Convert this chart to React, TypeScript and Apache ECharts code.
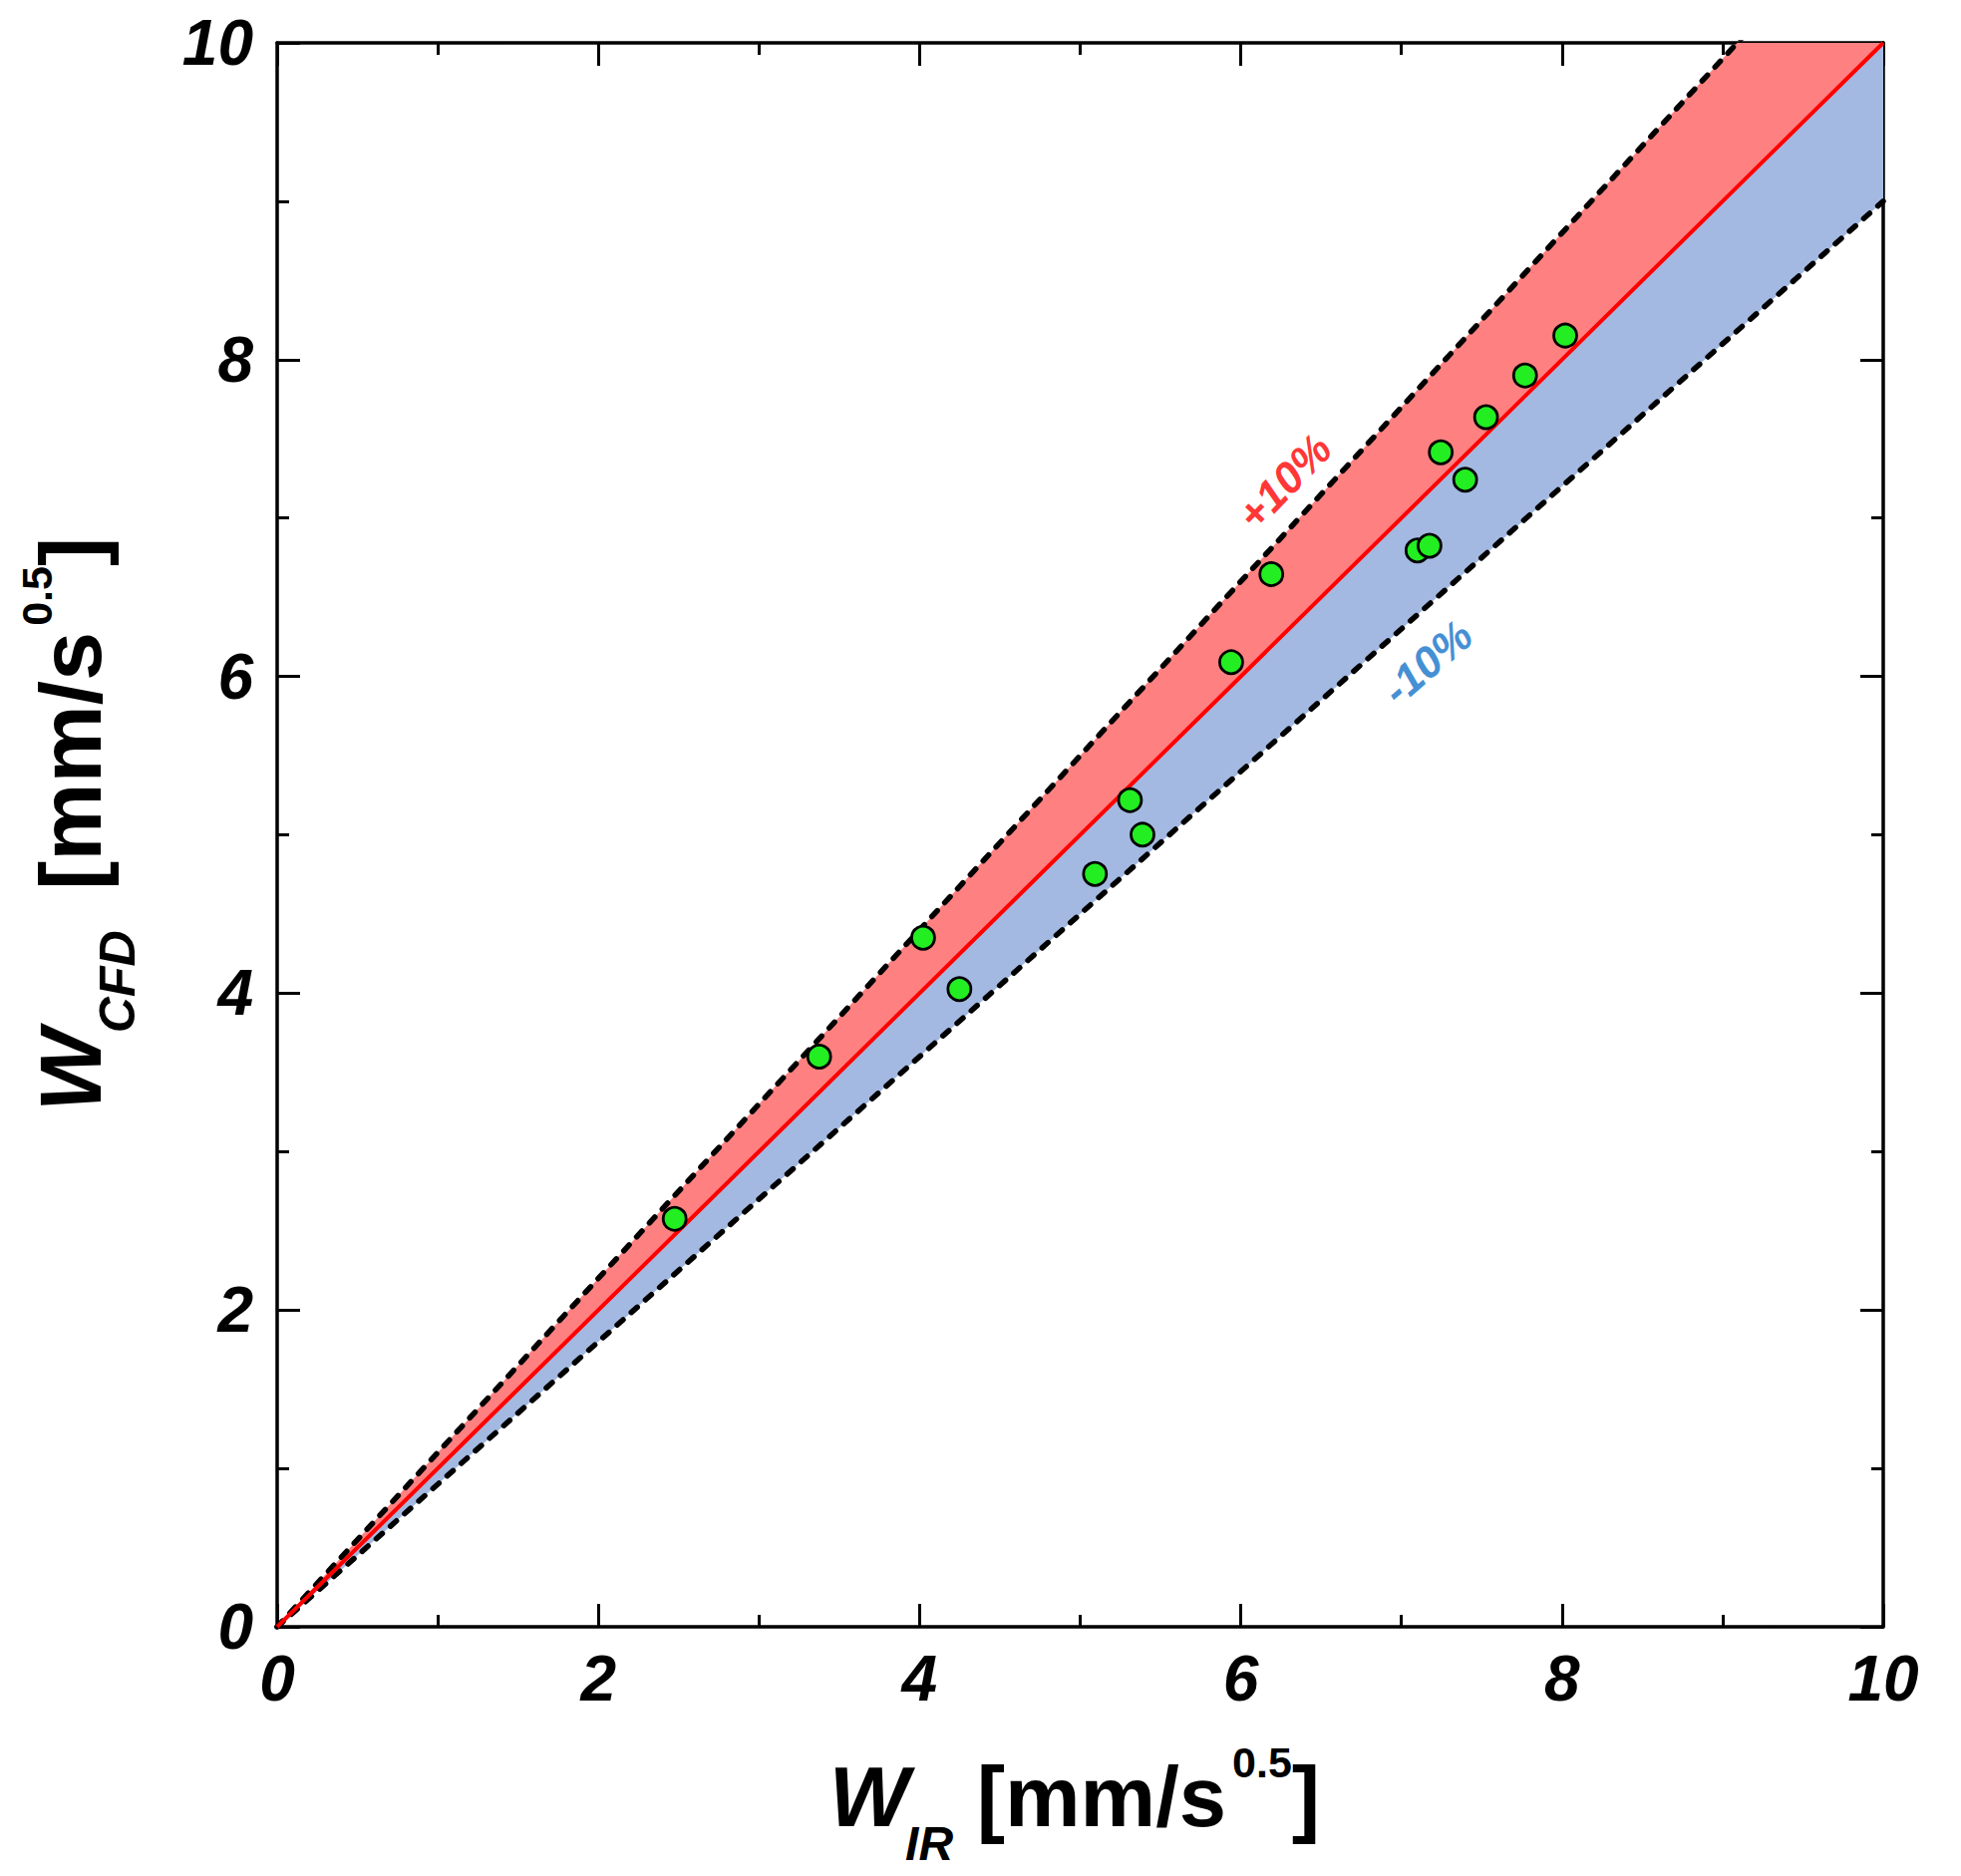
import React, { useEffect, useRef } from 'react';
import * as echarts from 'echarts';

// ---- data ----
const xIR = [2.475, 3.375, 4.022, 4.248, 5.092, 5.31, 5.388, 5.94, 6.19, 7.1, 7.175, 7.245, 7.397, 7.527, 7.77, 8.02];
const yCFD = [2.576, 3.6, 4.35, 4.026, 4.753, 5.219, 5.001, 6.09, 6.646, 6.795, 6.825, 7.415, 7.242, 7.637, 7.9, 8.152];

const axisMin = 0;
const axisMax = 10;
const majorStep = 2;

const refRatio = 1.0;
const upperRatio = 1.1;
const lowerRatio = 0.9;

const bandLabels = ['+10%', '-10%'];
const bandLabelX = [6.27, 7.16];
const bandLabelY = [7.23, 6.09];
const bandLabelAngles = [46, 41];

const xTitleParts = ['W', 'IR', ' [mm/s', '0.5', ']'];
const yTitleParts = ['W', 'CFD', ' [mm/s', '0.5', ']'];

const FONT = "'Liberation Sans', Arial, Helvetica, sans-serif";

function lineData(ratio: number) {
  return [
    [axisMin, axisMin * ratio],
    [axisMax, axisMax * ratio],
  ];
}

function buildTitle(parts: string[], x: number, y: number, rotation: number, main: number, sub: number, subGap: number) {
  const ctx = document.createElement('canvas').getContext('2d') as CanvasRenderingContext2D;
  const spec = [
    { size: main, italic: true, dy: 0, gap: 0 },
    { size: sub, italic: true, dy: 34, gap: -4 },
    { size: main, italic: false, dy: 0, gap: subGap },
    { size: 43, italic: false, dy: -49, gap: 6 },
    { size: main, italic: false, dy: 0, gap: 0 },
  ];
  const items = parts.map((t, i) => {
    const s = spec[i];
    ctx.font = `${s.italic ? 'italic ' : ''}bold ${s.size}px ${FONT}`;
    const w = ctx.measureText(t).width;
    return { text: t, w, ...s };
  });
  const total = items.reduce((acc, p) => acc + p.w + p.gap, 0);
  let cx = -total / 2;
  const children = items.map((p) => {
    cx += p.gap;
    const el = {
      type: 'text',
      x: cx,
      y: p.dy - 0.347 * p.size,
      style: {
        text: p.text,
        fontSize: p.size,
        fontWeight: 'bold',
        fontStyle: p.italic ? 'italic' : 'normal',
        fontFamily: FONT,
        fill: '#000',
        align: 'left',
        verticalAlign: 'middle',
      },
    };
    cx += p.w;
    return el;
  });
  return { type: 'group', x, y, rotation, children };
}

function makeAxis(position: string, showLabel: boolean) {
  return {
    type: 'value',
    position,
    min: axisMin,
    max: axisMax,
    interval: majorStep,
    axisLine: { show: true, onZero: false, lineStyle: { color: '#000', width: 3.5 } },
    axisTick: { show: true, inside: true, length: 23, lineStyle: { color: '#000', width: 3 } },
    minorTick: { show: true, splitNumber: 2, length: 12, lineStyle: { color: '#000', width: 3 } },
    splitLine: { show: false },
    minorSplitLine: { show: false },
    axisLabel: {
      show: showLabel,
      fontSize: 64,
      fontWeight: 'bold',
      fontStyle: 'italic',
      fontFamily: FONT,
      color: '#000',
      margin: position === 'bottom' ? 20 : 24,
      showMinLabel: true,
      showMaxLabel: true,
    },
  };
}

export default function App() {
  const ref = useRef<HTMLDivElement>(null);

  useEffect(() => {
    if (!ref.current) return;
    const chart = echarts.init(ref.current, undefined, { renderer: 'svg' });

    const bands = [
      { low: refRatio, high: upperRatio, color: '#ff8080' },
      { low: lowerRatio, high: refRatio, color: '#a3b9e1' },
    ];

    const dashStyle = { color: '#000', width: 5.5, type: [8, 11], cap: 'round' };

    const option: any = {
      animation: false,
      backgroundColor: '#fff',
      grid: { left: 278, top: 43, width: 1611, height: 1589, containLabel: false },
      xAxis: [makeAxis('bottom', true), makeAxis('top', false)],
      yAxis: [makeAxis('left', true), makeAxis('right', false)],
      series: [
        {
          type: 'custom',
          clip: true,
          silent: true,
          z: 1,
          data: bands.map((_, i) => [i, 0]),
          renderItem: (params: any, api: any) => {
            const b = bands[params.dataIndex];
            const pts = [
              api.coord([axisMin, axisMin * b.low]),
              api.coord([axisMax, axisMax * b.high]),
              api.coord([axisMax, axisMax * b.low]),
            ];
            return { type: 'polygon', shape: { points: pts }, style: { fill: b.color } };
          },
        },
        {
          type: 'line',
          data: lineData(upperRatio),
          symbol: 'none',
          silent: true,
          z: 3,
          lineStyle: dashStyle,
        },
        {
          type: 'line',
          data: lineData(lowerRatio),
          symbol: 'none',
          silent: true,
          z: 3,
          lineStyle: dashStyle,
        },
        {
          type: 'line',
          data: lineData(refRatio),
          symbol: 'none',
          silent: true,
          z: 4,
          lineStyle: { color: '#ff0000', width: 4, type: 'solid' },
        },
        {
          type: 'scatter',
          z: 6,
          data: xIR.map((x, i) => [x, yCFD[i]]),
          symbol: 'circle',
          symbolSize: 23,
          itemStyle: { color: '#22ee22', borderColor: '#000', borderWidth: 2.8, opacity: 1 },
        },
        {
          type: 'scatter',
          z: 7,
          silent: true,
          symbolSize: 1,
          itemStyle: { color: 'transparent' },
          data: bandLabels.map((t, i) => ({
            value: [bandLabelX[i], bandLabelY[i]],
            label: {
              show: true,
              formatter: t,
              position: 'inside',
              rotate: bandLabelAngles[i],
              color: i === 0 ? '#ff0000' : '#1272c8',
              fontSize: 44,
              fontWeight: 'bold',
              fontStyle: 'italic',
              fontFamily: FONT,
            },
          })),
        },
      ],
      graphic: [
        buildTitle(xTitleParts, 1078, 1832, 0, 85, 48, 0),
        buildTitle(yTitleParts, 101, 827, Math.PI / 2, 88, 50, 16),
      ],
    };

    chart.setOption(option);
    return () => chart.dispose();
  }, []);

  return (
    <div
      ref={ref}
      style={{ position: 'absolute', left: 0, top: 0, width: 1967, height: 1882, background: '#fff' }}
    />
  );
}
